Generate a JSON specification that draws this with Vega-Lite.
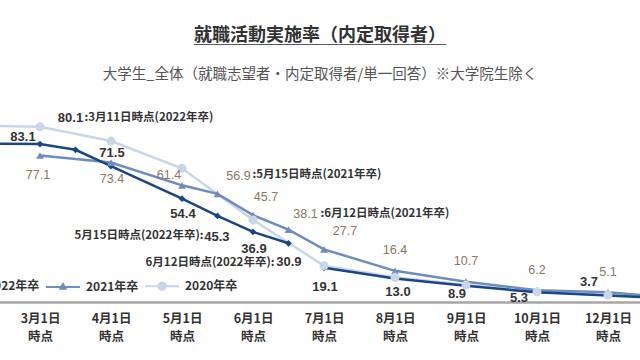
{
  "$schema": "https://vega.github.io/schema/vega-lite/v6.json",
  "width": 640,
  "height": 190,
  "autosize": "none",
  "padding": {"top": 112, "left": 0, "right": 0, "bottom": 58},
  "background": "white",
  "title": {
    "text": ["就職活動実施率（内定取得者）", "＿＿＿＿＿＿＿＿＿＿＿＿＿＿"],
    "subtitle": "大学生_全体（就職志望者・内定取得者/単一回答）※大学院生除く",
    "anchor": "middle",
    "frame": "group",
    "font": "Noto Sans CJK JP",
    "fontSize": 18,
    "fontWeight": "bold",
    "color": "#333333",
    "lineHeight": 2,
    "subtitleFont": "Noto Sans CJK JP",
    "subtitleFontSize": 14.5,
    "subtitleColor": "#555555",
    "subtitlePadding": 21,
    "offset": 30
  },
  "data": {
    "values": [
      {"series": "2020年卒", "time": "2月1日", "value": 93.0},
      {"series": "2020年卒", "time": "3月1日", "value": 92.2},
      {"series": "2020年卒", "time": "4月1日", "value": 84.7},
      {"series": "2020年卒", "time": "5月1日", "value": 70.4},
      {"series": "2020年卒", "time": "6月1日", "value": 43.2},
      {"series": "2020年卒", "time": "7月1日", "value": 19.1},
      {"series": "2020年卒", "time": "8月1日", "value": 13.0},
      {"series": "2020年卒", "time": "9月1日", "value": 8.9},
      {"series": "2020年卒", "time": "10月1日", "value": 5.3},
      {"series": "2020年卒", "time": "12月1日", "value": 3.7},
      {"series": "2020年卒", "time": "翌2月1日", "value": 1.7},
      {"series": "2021年卒", "time": "3月1日", "value": 77.1},
      {"series": "2021年卒", "time": "4月1日", "value": 73.4},
      {"series": "2021年卒", "time": "5月1日", "value": 61.4},
      {"series": "2021年卒", "time": "5月15日", "value": 56.9, "note": ":5月15日時点(2021年卒)"},
      {"series": "2021年卒", "time": "6月1日", "value": 45.7},
      {"series": "2021年卒", "time": "6月12日", "value": 38.1, "note": ":6月12日時点(2021年卒)"},
      {"series": "2021年卒", "time": "7月1日", "value": 27.7},
      {"series": "2021年卒", "time": "8月1日", "value": 16.4},
      {"series": "2021年卒", "time": "9月1日", "value": 10.7},
      {"series": "2021年卒", "time": "10月1日", "value": 6.2},
      {"series": "2021年卒", "time": "12月1日", "value": 5.1},
      {"series": "2021年卒", "time": "翌2月1日", "value": 2.0},
      {"series": "2022年卒", "seg": "a", "time": "2月1日", "value": 83.5},
      {"series": "2022年卒", "seg": "a", "time": "3月1日", "value": 83.1},
      {"series": "2022年卒", "seg": "a", "time": "3月11日", "value": 80.1, "note": ":3月11日時点(2022年卒)"},
      {"series": "2022年卒", "seg": "a", "time": "4月1日", "value": 71.5},
      {"series": "2022年卒", "seg": "a", "time": "5月1日", "value": 54.4},
      {"series": "2022年卒", "seg": "a", "time": "5月15日", "value": 45.3, "note": "5月15日時点(2022年卒):"},
      {"series": "2022年卒", "seg": "a", "time": "6月1日", "value": 36.9},
      {"series": "2022年卒", "seg": "a", "time": "6月12日", "value": 30.9, "note": "6月12日時点(2022年卒):"},
      {"series": "2022年卒", "seg": "b", "time": "7月1日", "value": 18.0},
      {"series": "2022年卒", "seg": "b", "time": "8月1日", "value": 12.4},
      {"series": "2022年卒", "seg": "b", "time": "9月1日", "value": 8.5},
      {"series": "2022年卒", "seg": "b", "time": "10月1日", "value": 5.1},
      {"series": "2022年卒", "seg": "b", "time": "12月1日", "value": 3.4},
      {"series": "2022年卒", "seg": "b", "time": "翌2月1日", "value": 1.6}
    ]
  },
  "encoding": {
    "x": {
      "field": "time",
      "type": "ordinal",
      "sort": ["2月1日", "2月15日", "3月1日", "3月11日", "4月1日", "4月15日", "5月1日", "5月15日", "6月1日", "6月12日", "7月1日", "7月15日", "8月1日", "8月15日", "9月1日", "9月15日", "10月1日", "11月1日", "12月1日", "12月15日", "翌2月1日"],
      "scale": {
        "type": "point",
        "domain": ["2月1日", "2月15日", "3月1日", "3月11日", "4月1日", "4月15日", "5月1日", "5月15日", "6月1日", "6月12日", "7月1日", "7月15日", "8月1日", "8月15日", "9月1日", "9月15日", "10月1日", "11月1日", "12月1日", "12月15日", "翌2月1日"],
        "range": [-31, 679],
        "padding": 0
      },
      "axis": {
        "title": null,
        "ticks": false,
        "grid": false,
        "domainColor": "#a6a6a6",
        "domainWidth": 2.5,
        "labelAngle": 0,
        "labelOverlap": false,
        "labelFont": "Noto Sans CJK JP",
        "labelFontSize": 12.5,
        "labelFontWeight": "bold",
        "labelColor": "#333333",
        "labelPadding": 10,
        "labelLineHeight": 18,
        "labelBaseline": "top",
        "labelExpr": "indexof(['3月1日','4月1日','5月1日','6月1日','7月1日','8月1日','9月1日','10月1日','12月1日'], datum.value) >= 0 ? [datum.value, '時点'] : ''"
      }
    },
    "y": {
      "field": "value",
      "type": "quantitative",
      "scale": {"domain": [0, 100], "nice": false, "zero": true},
      "axis": null
    }
  },
  "layer": [
    {
      "mark": {"type": "line", "strokeWidth": 2.5},
      "encoding": {
        "color": {
          "field": "series",
          "type": "nominal",
          "scale": {"domain": ["2022年卒", "2021年卒", "2020年卒"], "range": ["#1c4585", "#6d8cbf", "#c9d6ea"]},
          "legend": {
            "orient": "none",
            "legendX": -54,
            "legendY": 156,
            "direction": "horizontal",
            "title": null,
            "padding": 0,
            "symbolSize": 1156,
            "symbolStrokeWidth": 2,
            "labelFont": "Noto Sans CJK JP",
            "labelFontSize": 12,
            "labelFontWeight": "bold",
            "labelColor": "#333333",
            "labelOffset": 5,
            "columnPadding": 2,
            "encode": {
              "symbols": {
                "update": {
                  "shape": {"signal": "datum.value === '2022年卒' ? 'M-1,0H1M0,-0.18L0.12,0L0,0.18L-0.12,0Z' : datum.value === '2021年卒' ? 'M-1,0H1M0,-0.17L0.15,0.1L-0.15,0.1Z' : 'M-1,0H1M0.22,0A0.22,0.22,0,1,1,-0.22,0A0.22,0.22,0,1,1,0.22,0Z'"},
                  "fill": {"signal": "scale('color', datum.value)"},
                  "stroke": {"signal": "scale('color', datum.value)"},
                  "strokeWidth": {"value": 2},
                  "opacity": {"value": 1}
                }
              }
            }
          }
        },
        "detail": {"field": "seg"}
      }
    },
    {
      "transform": [{"filter": "datum.series === '2022年卒'"}],
      "mark": {"type": "point", "shape": "diamond", "filled": true, "size": 45, "color": "#1c4585", "opacity": 1}
    },
    {
      "transform": [{"filter": "datum.series === '2021年卒'"}],
      "mark": {"type": "point", "shape": "triangle-up", "filled": true, "size": 60, "color": "#6d8cbf", "opacity": 1}
    },
    {
      "transform": [{"filter": "datum.series === '2020年卒'"}],
      "mark": {"type": "point", "shape": "circle", "filled": true, "size": 80, "color": "#c9d6ea", "opacity": 1}
    },
    {
      "transform": [{"filter": "datum.series === '2022年卒' && datum.time === '3月1日'"}],
      "mark": {"type": "text", "font": "Liberation Sans", "fontSize": 13, "fontWeight": "bold", "color": "#333333", "dx": -17, "dy": -7},
      "encoding": {"text": {"field": "value", "format": ".1f"}}
    },
    {
      "transform": [{"filter": "datum.series === '2022年卒' && datum.time === '3月11日'"}],
      "mark": {"type": "text", "font": "Liberation Sans", "fontSize": 13, "fontWeight": "bold", "color": "#333333", "dx": -5, "dy": -32},
      "encoding": {"text": {"field": "value", "format": ".1f"}}
    },
    {
      "transform": [{"filter": "datum.series === '2022年卒' && datum.time === '4月1日'"}],
      "mark": {"type": "text", "font": "Liberation Sans", "fontSize": 13, "fontWeight": "bold", "color": "#333333", "dx": 1, "dy": -13},
      "encoding": {"text": {"field": "value", "format": ".1f"}}
    },
    {
      "transform": [{"filter": "datum.series === '2022年卒' && datum.time === '5月1日'"}],
      "mark": {"type": "text", "font": "Liberation Sans", "fontSize": 13, "fontWeight": "bold", "color": "#333333", "dx": 1, "dy": 15},
      "encoding": {"text": {"field": "value", "format": ".1f"}}
    },
    {
      "transform": [{"filter": "datum.series === '2022年卒' && datum.time === '5月15日'"}],
      "mark": {"type": "text", "font": "Liberation Sans", "fontSize": 13, "fontWeight": "bold", "color": "#333333", "align": "right", "dx": 12, "dy": 21},
      "encoding": {"text": {"field": "value", "format": ".1f"}}
    },
    {
      "transform": [{"filter": "datum.series === '2022年卒' && datum.time === '6月1日'"}],
      "mark": {"type": "text", "font": "Liberation Sans", "fontSize": 13, "fontWeight": "bold", "color": "#333333", "dx": 1, "dy": 17.5},
      "encoding": {"text": {"field": "value", "format": ".1f"}}
    },
    {
      "transform": [{"filter": "datum.series === '2022年卒' && datum.time === '6月12日'"}],
      "mark": {"type": "text", "font": "Liberation Sans", "fontSize": 13, "fontWeight": "bold", "color": "#333333", "align": "right", "dx": 13, "dy": 19},
      "encoding": {"text": {"field": "value", "format": ".1f"}}
    },
    {
      "transform": [{"filter": "datum.series === '2020年卒' && datum.time === '7月1日'"}],
      "mark": {"type": "text", "font": "Liberation Sans", "fontSize": 13, "fontWeight": "bold", "color": "#333333", "dx": 1, "dy": 21},
      "encoding": {"text": {"field": "value", "format": ".1f"}}
    },
    {
      "transform": [{"filter": "datum.series === '2020年卒' && datum.time === '8月1日'"}],
      "mark": {"type": "text", "font": "Liberation Sans", "fontSize": 13, "fontWeight": "bold", "color": "#333333", "dx": 3, "dy": 15},
      "encoding": {"text": {"field": "value", "format": ".1f"}}
    },
    {
      "transform": [{"filter": "datum.series === '2020年卒' && datum.time === '9月1日'"}],
      "mark": {"type": "text", "font": "Liberation Sans", "fontSize": 13, "fontWeight": "bold", "color": "#333333", "dx": -9, "dy": 9},
      "encoding": {"text": {"field": "value", "format": ".1f"}}
    },
    {
      "transform": [{"filter": "datum.series === '2020年卒' && datum.time === '10月1日'"}],
      "mark": {"type": "text", "font": "Liberation Sans", "fontSize": 13, "fontWeight": "bold", "color": "#333333", "dx": -18, "dy": 6},
      "encoding": {"text": {"field": "value", "format": ".1f"}}
    },
    {
      "transform": [{"filter": "datum.series === '2020年卒' && datum.time === '12月1日'"}],
      "mark": {"type": "text", "font": "Liberation Sans", "fontSize": 13, "fontWeight": "bold", "color": "#333333", "dx": -19, "dy": -12.5},
      "encoding": {"text": {"field": "value", "format": ".1f"}}
    },
    {
      "transform": [{"filter": "datum.series === '2021年卒' && datum.time === '3月1日'"}],
      "mark": {"type": "text", "font": "Liberation Sans", "fontSize": 12.5, "color": "#8b7763", "dx": -2, "dy": 19.5},
      "encoding": {"text": {"field": "value", "format": ".1f"}}
    },
    {
      "transform": [{"filter": "datum.series === '2021年卒' && datum.time === '4月1日'"}],
      "mark": {"type": "text", "font": "Liberation Sans", "fontSize": 12.5, "color": "#8b7763", "dx": 1, "dy": 16.5},
      "encoding": {"text": {"field": "value", "format": ".1f"}}
    },
    {
      "transform": [{"filter": "datum.series === '2021年卒' && datum.time === '5月1日'"}],
      "mark": {"type": "text", "font": "Liberation Sans", "fontSize": 12.5, "color": "#8b7763", "dx": -13, "dy": -10},
      "encoding": {"text": {"field": "value", "format": ".1f"}}
    },
    {
      "transform": [{"filter": "datum.series === '2021年卒' && (datum.time === '5月15日' || datum.time === '7月1日')"}],
      "mark": {"type": "text", "font": "Liberation Sans", "fontSize": 12.5, "color": "#8b7763", "dx": 21, "dy": -18},
      "encoding": {"text": {"field": "value", "format": ".1f"}}
    },
    {
      "transform": [{"filter": "datum.series === '2021年卒' && datum.time === '6月1日'"}],
      "mark": {"type": "text", "font": "Liberation Sans", "fontSize": 12.5, "color": "#8b7763", "dx": 13, "dy": -18},
      "encoding": {"text": {"field": "value", "format": ".1f"}}
    },
    {
      "transform": [{"filter": "datum.series === '2021年卒' && datum.time === '6月12日'"}],
      "mark": {"type": "text", "font": "Liberation Sans", "fontSize": 12.5, "color": "#8b7763", "dx": 17, "dy": -16},
      "encoding": {"text": {"field": "value", "format": ".1f"}}
    },
    {
      "transform": [{"filter": "datum.series === '2021年卒' && indexof(['8月1日','9月1日','10月1日','12月1日'], datum.time) >= 0"}],
      "mark": {"type": "text", "font": "Liberation Sans", "fontSize": 12.5, "color": "#8b7763", "dx": 0, "dy": -20.5},
      "encoding": {"text": {"field": "value", "format": ".1f"}}
    },
    {
      "transform": [{"filter": "datum.series === '2022年卒' && datum.time === '3月11日'"}],
      "mark": {"type": "text", "font": "Noto Sans CJK JP", "fontSize": 11.5, "fontWeight": "bold", "color": "#333333", "align": "left", "dx": 9, "dy": -32},
      "encoding": {"text": {"field": "note"}}
    },
    {
      "transform": [{"filter": "datum.series === '2022年卒' && (datum.time === '5月15日' || datum.time === '6月12日')"}],
      "mark": {"type": "text", "font": "Noto Sans CJK JP", "fontSize": 11.5, "fontWeight": "bold", "color": "#333333", "align": "right", "dx": -14, "dy": 20},
      "encoding": {"text": {"field": "note"}}
    },
    {
      "transform": [{"filter": "datum.series === '2021年卒' && datum.time === '5月15日'"}],
      "mark": {"type": "text", "font": "Noto Sans CJK JP", "fontSize": 11.5, "fontWeight": "bold", "color": "#333333", "align": "left", "dx": 35, "dy": -19},
      "encoding": {"text": {"field": "note"}}
    },
    {
      "transform": [{"filter": "datum.series === '2021年卒' && datum.time === '6月12日'"}],
      "mark": {"type": "text", "font": "Noto Sans CJK JP", "fontSize": 11.5, "fontWeight": "bold", "color": "#333333", "align": "left", "dx": 32, "dy": -16},
      "encoding": {"text": {"field": "note"}}
    }
  ],
  "config": {
    "view": {"stroke": null}
  }
}
